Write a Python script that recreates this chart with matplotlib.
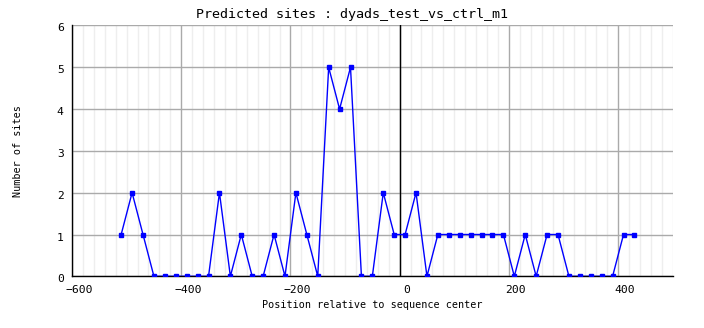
import numpy as np
import matplotlib
matplotlib.use('Agg')
import matplotlib.pyplot as plt
import matplotlib.transforms as mtransforms

# Positions (bin centres) and number of predicted sites
positions = [-510, -490, -470, -450, -430, -410, -390, -370, -350, -330,
             -310, -290, -270, -250, -230, -210, -190, -170, -150, -130,
             -110, -90, -70, -50, -30, -10, 10, 30, 50, 70,
             90, 110, 130, 150, 170, 190, 210, 230, 250, 270,
             290, 310, 330, 350, 370, 390, 410, 430]
sites = [1, 2, 1, 0, 0, 0, 0, 0, 0, 2,
         0, 1, 0, 0, 1, 0, 2, 1, 0, 5,
         4, 5, 0, 0, 2, 1, 1, 2, 0, 1,
         1, 1, 1, 1, 1, 1, 0, 1, 0, 1,
         1, 0, 0, 0, 0, 0, 1, 1]

xticks = [-600, -400, -200, 0, 200, 400]
yticks = [0, 1, 2, 3, 4, 5, 6]

plt.rcParams['font.family'] = 'DejaVu Sans Mono'

fig = plt.figure(figsize=(7.04, 3.28), dpi=100)
ax = fig.add_axes([0.1023, 0.1576, 0.8532, 0.7647])

ax.set_xlim(-600, 500)
ax.set_ylim(0, 6)
ax.set_xticks(xticks)
ax.set_yticks(yticks)
ax.set_xticks(np.arange(-600, 501, 20), minor=True)

# Grid: light minor verticals, gray majors
ax.grid(which='minor', axis='x', color='#eeeeee', lw=1)
ax.grid(which='major', color='#aaaaaa', lw=1)
ax.set_axisbelow(True)

ax.axvline(0, color='black', lw=1, zorder=2)
ax.plot(positions, sites, color='#0000ff', lw=1, marker='s', ms=2.2, zorder=3)

for s in ['top', 'right']:
    ax.spines[s].set_visible(False)
for s in ['left', 'bottom']:
    ax.spines[s].set_color('black')
    ax.spines[s].set_linewidth(1.0)
ax.tick_params(which='both', length=0, labelsize=8.2, pad=6)

# tick labels sit a little to the right of their grid lines
offset = mtransforms.ScaledTranslation(7 / 100, 0, fig.dpi_scale_trans)
for lbl in ax.get_xticklabels():
    lbl.set_transform(lbl.get_transform() + offset)
yoff = mtransforms.ScaledTranslation(0, -2 / 100, fig.dpi_scale_trans)
for lbl in ax.get_yticklabels():
    lbl.set_transform(lbl.get_transform() + yoff)

ax.set_xlabel('Position relative to sequence center', fontsize=7.3, labelpad=4)
ax.set_ylabel('Number of sites', fontsize=7.3, labelpad=24)
fig.text(0.5, 0.955, 'Predicted sites : dyads_test_vs_ctrl_m1', ha='center', va='center', fontsize=9.6)

plt.savefig('out.png', dpi=100)
plt.close()
